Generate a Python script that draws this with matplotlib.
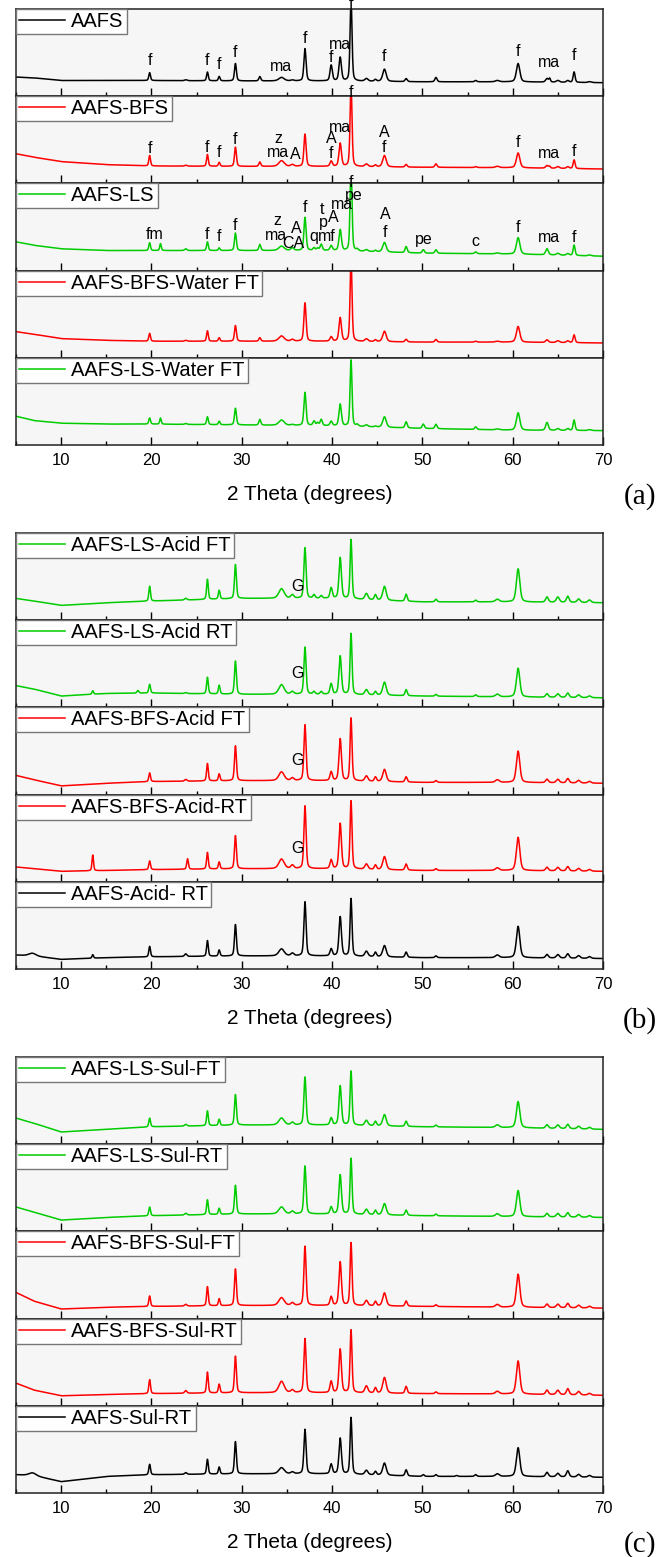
import numpy as np
import matplotlib
matplotlib.use("Agg")
import matplotlib.pyplot as plt
from matplotlib.ticker import MultipleLocator

plt.rcParams["font.family"] = ["Liberation Sans", "DejaVu Sans"]

W, H = 672, 1557

# common baseline anchor positions (2 theta, degrees)
base_x = [5, 7, 10, 15, 20, 30, 40, 50, 60, 70]

# peak widths (FWHM, degrees); anything not listed uses 0.28
peak_width = {6.8: 0.9, 13.5: 0.2, 18.5: 0.25, 19.8: 0.22, 21.0: 0.2, 23.8: 0.3,
              24.0: 0.22, 26.2: 0.22, 27.5: 0.22, 29.3: 0.25, 32.0: 0.25,
              34.4: 0.7, 35.6: 0.4, 37.0: 0.28, 39.9: 0.3, 40.9: 0.32,
              42.1: 0.25, 43.8: 0.4, 45.8: 0.45, 58.3: 0.5, 60.6: 0.45,
              63.8: 0.35, 64.1: 0.2, 65.0: 0.4, 66.1: 0.35, 66.8: 0.25,
              67.3: 0.4, 68.5: 0.4}

# ---------- (a) ----------
aafs_base = [0.22, 0.21, 0.18, 0.18, 0.18, 0.175, 0.175, 0.165, 0.165, 0.155]
aafs_peaks = {19.8: 0.09, 23.8: 0.01, 26.2: 0.10, 27.5: 0.05, 29.3: 0.20, 32.0: 0.05,
              34.4: 0.04, 35.6: 0.01, 37.0: 0.37, 39.9: 0.18, 40.9: 0.27, 42.1: 0.95,
              43.8: 0.03, 44.8: 0.02, 45.8: 0.14, 48.2: 0.035, 51.5: 0.05, 55.9: 0.015,
              58.3: 0.015, 60.6: 0.21, 63.8: 0.04, 64.1: 0.04, 65.0: 0.02, 66.1: 0.02,
              66.8: 0.12, 68.5: 0.01}

aafs_bfs_base = [0.34, 0.30, 0.25, 0.215, 0.20, 0.195, 0.195, 0.185, 0.18, 0.165]
aafs_bfs_peaks = {19.8: 0.12, 23.8: 0.01, 26.2: 0.135, 27.5: 0.045, 29.3: 0.22, 32.0: 0.05,
                  34.4: 0.065, 35.6: 0.02, 37.0: 0.37, 39.9: 0.06, 40.9: 0.265, 42.1: 0.95,
                  43.8: 0.03, 44.8: 0.02, 45.8: 0.13, 48.2: 0.03, 51.5: 0.04, 55.9: 0.01,
                  58.3: 0.015, 60.6: 0.17, 63.8: 0.03, 64.1: 0.02, 65.0: 0.02, 66.1: 0.02,
                  66.8: 0.10}

aafs_ls_base = [0.33, 0.29, 0.25, 0.23, 0.23, 0.23, 0.23, 0.20, 0.19, 0.165]
aafs_ls_peaks = {19.8: 0.09, 21.0: 0.08, 23.8: 0.02, 26.2: 0.10, 27.5: 0.03, 29.3: 0.20,
                 32.0: 0.07, 34.4: 0.05, 35.6: 0.03, 37.0: 0.38, 38.0: 0.03, 38.4: 0.025,
                 38.8: 0.07, 39.9: 0.055, 40.9: 0.24, 42.1: 1.0, 42.8: 0.02, 43.8: 0.02,
                 44.8: 0.015, 45.8: 0.11, 48.2: 0.07, 50.1: 0.04, 51.5: 0.04, 55.9: 0.02,
                 58.3: 0.01, 60.6: 0.19, 63.8: 0.07, 65.0: 0.02, 66.1: 0.02, 66.8: 0.12,
                 68.5: 0.01}

bfs_water_ft_base = [0.30, 0.27, 0.22, 0.20, 0.19, 0.19, 0.19, 0.18, 0.18, 0.17]
bfs_water_ft_peaks = {19.8: 0.09, 23.8: 0.01, 26.2: 0.12, 27.5: 0.04, 29.3: 0.18, 32.0: 0.04,
                      34.4: 0.06, 35.6: 0.02, 37.0: 0.44, 39.9: 0.05, 40.9: 0.27, 42.1: 0.95,
                      43.8: 0.03, 44.8: 0.02, 45.8: 0.12, 48.2: 0.03, 51.5: 0.03, 55.9: 0.01,
                      58.3: 0.01, 60.6: 0.18, 63.8: 0.03, 65.0: 0.02, 66.1: 0.02, 66.8: 0.09}

ls_water_ft_base = [0.33, 0.28, 0.25, 0.24, 0.24, 0.23, 0.22, 0.19, 0.17, 0.165]
ls_water_ft_peaks = {19.8: 0.07, 21.0: 0.07, 23.8: 0.01, 26.2: 0.09, 27.5: 0.04, 29.3: 0.19,
                     32.0: 0.065, 34.4: 0.06, 35.6: 0.01, 37.0: 0.38, 38.0: 0.05, 38.4: 0.03,
                     38.8: 0.07, 39.9: 0.05, 40.9: 0.25, 42.1: 0.76, 42.8: 0.02, 43.8: 0.02,
                     44.8: 0.01, 45.8: 0.12, 48.2: 0.07, 50.1: 0.05, 51.5: 0.05, 55.9: 0.03,
                     58.3: 0.01, 60.6: 0.20, 63.8: 0.09, 65.0: 0.02, 66.1: 0.02, 66.8: 0.12,
                     68.5: 0.01}

# ---------- (b) ----------
ls_acid_ft_base = [0.25, 0.22, 0.17, 0.20, 0.22, 0.25, 0.25, 0.21, 0.21, 0.20]
ls_acid_ft_peaks = {19.8: 0.17, 23.8: 0.02, 26.2: 0.23, 27.5: 0.10, 29.3: 0.39, 34.4: 0.11,
                    35.6: 0.04, 37.0: 0.58, 38.0: 0.04, 38.8: 0.03, 39.9: 0.12, 40.9: 0.47,
                    42.1: 0.68, 43.8: 0.07, 44.8: 0.06, 45.8: 0.16, 48.2: 0.08, 51.5: 0.03,
                    55.9: 0.02, 58.3: 0.03, 60.6: 0.38, 63.8: 0.06, 65.0: 0.06, 66.1: 0.07,
                    67.3: 0.04, 68.5: 0.03}

ls_acid_rt_base = [0.25, 0.21, 0.13, 0.16, 0.165, 0.15, 0.15, 0.13, 0.12, 0.11]
ls_acid_rt_peaks = {13.5: 0.04, 18.5: 0.03, 19.8: 0.10, 23.8: 0.01, 26.2: 0.19, 27.5: 0.10,
                    29.3: 0.38, 34.4: 0.11, 35.6: 0.03, 37.0: 0.54, 38.0: 0.03, 38.8: 0.03,
                    39.9: 0.12, 40.9: 0.44, 42.1: 0.70, 43.8: 0.06, 44.8: 0.04, 45.8: 0.15,
                    48.2: 0.07, 51.5: 0.02, 55.9: 0.02, 58.3: 0.03, 60.6: 0.33, 63.8: 0.04,
                    65.0: 0.04, 66.1: 0.05, 67.3: 0.03, 68.5: 0.02}

bfs_acid_ft_base = [0.22, 0.17, 0.10, 0.13, 0.15, 0.16, 0.16, 0.14, 0.14, 0.13]
bfs_acid_ft_peaks = {19.8: 0.10, 23.8: 0.02, 26.2: 0.20, 27.5: 0.08, 29.3: 0.40, 34.4: 0.10,
                     35.6: 0.03, 37.0: 0.64, 39.9: 0.10, 40.9: 0.48, 42.1: 0.72, 43.8: 0.06,
                     44.8: 0.05, 45.8: 0.14, 48.2: 0.06, 51.5: 0.02, 58.3: 0.03, 60.6: 0.36,
                     63.8: 0.04, 65.0: 0.04, 66.1: 0.05, 67.3: 0.03, 68.5: 0.02}

bfs_acid_rt_base = [0.17, 0.15, 0.12, 0.13, 0.14, 0.15, 0.15, 0.13, 0.13, 0.12]
bfs_acid_rt_peaks = {13.5: 0.18, 19.8: 0.10, 24.0: 0.12, 26.2: 0.19, 27.5: 0.08, 29.3: 0.38,
                     34.4: 0.11, 35.6: 0.04, 37.0: 0.72, 39.9: 0.10, 40.9: 0.52, 42.1: 0.78,
                     43.8: 0.06, 44.8: 0.05, 45.8: 0.15, 48.2: 0.07, 51.5: 0.02, 58.3: 0.03,
                     60.6: 0.38, 63.8: 0.04, 65.0: 0.04, 66.1: 0.05, 67.3: 0.03, 68.5: 0.02}

acid_rt_base = [0.16, 0.15, 0.11, 0.13, 0.14, 0.15, 0.15, 0.13, 0.13, 0.12]
acid_rt_peaks = {6.8: 0.03, 13.5: 0.04, 19.8: 0.12, 23.8: 0.03, 26.2: 0.18, 27.5: 0.07,
                 29.3: 0.36, 34.4: 0.08, 35.6: 0.03, 37.0: 0.62, 39.9: 0.08, 40.9: 0.45,
                 42.1: 0.66, 43.8: 0.06, 44.8: 0.05, 45.8: 0.13, 48.2: 0.06, 51.5: 0.02,
                 58.3: 0.03, 60.6: 0.36, 63.8: 0.04, 65.0: 0.04, 66.1: 0.05, 67.3: 0.03,
                 68.5: 0.02}

# ---------- (c) ----------
ls_sul_ft_base = [0.30, 0.24, 0.14, 0.17, 0.20, 0.22, 0.22, 0.20, 0.19, 0.17]
ls_sul_ft_peaks = {19.8: 0.10, 23.8: 0.02, 26.2: 0.17, 27.5: 0.07, 29.3: 0.35, 34.4: 0.08,
                   35.6: 0.03, 37.0: 0.55, 39.9: 0.08, 40.9: 0.45, 42.1: 0.62, 43.8: 0.06,
                   44.8: 0.05, 45.8: 0.13, 48.2: 0.06, 51.5: 0.02, 58.3: 0.03, 60.6: 0.30,
                   63.8: 0.04, 65.0: 0.04, 66.1: 0.05, 67.3: 0.03, 68.5: 0.02}

ls_sul_rt_base = [0.28, 0.22, 0.13, 0.16, 0.18, 0.20, 0.20, 0.18, 0.17, 0.16]
ls_sul_rt_peaks = {19.8: 0.10, 23.8: 0.02, 26.2: 0.17, 27.5: 0.07, 29.3: 0.33, 34.4: 0.08,
                   35.6: 0.03, 37.0: 0.55, 39.9: 0.08, 40.9: 0.45, 42.1: 0.64, 43.8: 0.06,
                   44.8: 0.05, 45.8: 0.13, 48.2: 0.06, 51.5: 0.02, 58.3: 0.03, 60.6: 0.30,
                   63.8: 0.04, 65.0: 0.04, 66.1: 0.05, 67.3: 0.03, 68.5: 0.02}

bfs_sul_ft_base = [0.30, 0.20, 0.11, 0.13, 0.14, 0.15, 0.15, 0.14, 0.13, 0.12]
bfs_sul_ft_peaks = {19.8: 0.12, 23.8: 0.02, 26.2: 0.22, 27.5: 0.08, 29.3: 0.42, 34.4: 0.09,
                    35.6: 0.03, 37.0: 0.68, 39.9: 0.10, 40.9: 0.50, 42.1: 0.72, 43.8: 0.06,
                    44.8: 0.05, 45.8: 0.15, 48.2: 0.06, 51.5: 0.02, 58.3: 0.03, 60.6: 0.38,
                    63.8: 0.04, 65.0: 0.04, 66.1: 0.05, 67.3: 0.03, 68.5: 0.02}

bfs_sul_rt_base = [0.26, 0.18, 0.115, 0.13, 0.14, 0.15, 0.15, 0.14, 0.135, 0.12]
bfs_sul_rt_peaks = {19.8: 0.16, 23.8: 0.03, 26.2: 0.24, 27.5: 0.10, 29.3: 0.42, 34.4: 0.13,
                    35.6: 0.03, 37.0: 0.62, 39.9: 0.13, 40.9: 0.50, 42.1: 0.72, 43.8: 0.08,
                    44.8: 0.06, 45.8: 0.18, 48.2: 0.08, 51.5: 0.02, 58.3: 0.03, 60.6: 0.38,
                    63.8: 0.05, 65.0: 0.05, 66.1: 0.07, 67.3: 0.04, 68.5: 0.02}

sul_rt_base = [0.21, 0.20, 0.13, 0.19, 0.21, 0.22, 0.22, 0.19, 0.19, 0.18]
sul_rt_peaks = {6.8: 0.03, 19.8: 0.12, 23.8: 0.02, 26.2: 0.17, 27.5: 0.08, 29.3: 0.37,
                34.4: 0.07, 35.6: 0.02, 37.0: 0.51, 39.9: 0.11, 40.9: 0.41, 42.1: 0.65,
                43.8: 0.05, 44.8: 0.04, 45.8: 0.14, 48.2: 0.07, 50.1: 0.02, 51.5: 0.02,
                53.8: 0.01, 55.9: 0.02, 58.3: 0.03, 60.6: 0.33, 63.8: 0.05, 65.0: 0.04,
                66.1: 0.07, 67.3: 0.03, 68.5: 0.02}

# phase labels (2theta, height in subplot, text)
aafs_marks = [(19.8, 0.32, "f"), (26.2, 0.32, "f"), (27.5, 0.28, "f"), (29.3, 0.41, "f"),
              (34.3, 0.25, "ma"), (37.0, 0.58, "f"), (39.9, 0.36, "f"), (40.9, 0.51, "ma"),
              (42.1, 0.96, "f"), (45.8, 0.37, "f"), (60.6, 0.43, "f"), (64.0, 0.30, "ma"),
              (66.8, 0.38, "f")]
aafs_bfs_marks = [(19.8, 0.31, "f"), (26.2, 0.33, "f"), (27.5, 0.27, "f"), (29.3, 0.415, "f"),
                  (34.0, 0.43, "z"), (34.0, 0.27, "ma"), (35.9, 0.24, "A"), (39.9, 0.43, "A"),
                  (39.9, 0.26, "f"), (40.9, 0.55, "ma"), (42.1, 0.96, "f"), (45.8, 0.50, "A"),
                  (45.8, 0.32, "f"), (60.6, 0.38, "f"), (64.0, 0.26, "ma"), (66.8, 0.28, "f")]
aafs_ls_marks = [(20.4, 0.33, "fm"), (26.2, 0.33, "f"), (27.5, 0.30, "f"), (29.3, 0.43, "f"),
                 (33.9, 0.49, "z"), (33.8, 0.32, "ma"), (36.0, 0.40, "A"), (35.7, 0.23, "CA"),
                 (37.0, 0.64, "f"), (38.0, 0.30, "q"), (39.4, 0.30, "mf"), (39.0, 0.46, "p"),
                 (38.9, 0.62, "t"), (40.1, 0.52, "A"), (41.1, 0.67, "ma"), (42.4, 0.78, "pe"),
                 (42.1, 0.93, "f"), (45.9, 0.56, "A"), (45.9, 0.35, "f"), (50.2, 0.27, "pe"),
                 (55.9, 0.25, "c"), (60.6, 0.41, "f"), (64.0, 0.29, "ma"), (66.8, 0.29, "f")]
acid_marks = [(36.2, 0.30, "G")]

green = "#00cc00"
panel_a = [("AAFS", "black", aafs_base, aafs_peaks, aafs_marks),
           ("AAFS-BFS", "red", aafs_bfs_base, aafs_bfs_peaks, aafs_bfs_marks),
           ("AAFS-LS", green, aafs_ls_base, aafs_ls_peaks, aafs_ls_marks),
           ("AAFS-BFS-Water FT", "red", bfs_water_ft_base, bfs_water_ft_peaks, []),
           ("AAFS-LS-Water FT", green, ls_water_ft_base, ls_water_ft_peaks, [])]
panel_b = [("AAFS-LS-Acid FT", green, ls_acid_ft_base, ls_acid_ft_peaks, acid_marks),
           ("AAFS-LS-Acid RT", green, ls_acid_rt_base, ls_acid_rt_peaks, acid_marks),
           ("AAFS-BFS-Acid FT", "red", bfs_acid_ft_base, bfs_acid_ft_peaks, acid_marks),
           ("AAFS-BFS-Acid-RT", "red", bfs_acid_rt_base, bfs_acid_rt_peaks, acid_marks),
           ("AAFS-Acid- RT", "black", acid_rt_base, acid_rt_peaks, [])]
panel_c = [("AAFS-LS-Sul-FT", green, ls_sul_ft_base, ls_sul_ft_peaks, []),
           ("AAFS-LS-Sul-RT", green, ls_sul_rt_base, ls_sul_rt_peaks, []),
           ("AAFS-BFS-Sul-FT", "red", bfs_sul_ft_base, bfs_sul_ft_peaks, []),
           ("AAFS-BFS-Sul-RT", "red", bfs_sul_rt_base, bfs_sul_rt_peaks, []),
           ("AAFS-Sul-RT", "black", sul_rt_base, sul_rt_peaks, [])]


def pattern(x, base, peaks):
    y = np.interp(x, base_x, base)
    for pos, amp in peaks.items():
        w = peak_width.get(pos, 0.28)
        d = (x - pos) / (w / 2)
        y = y + amp * (0.6 * np.exp(-np.log(2) * d ** 2) + 0.4 / (1 + d ** 2))
    return y


two_theta = np.arange(5, 70.001, 0.02)

fig = plt.figure(figsize=(W / 100, H / 100), dpi=100)

left, right = 16, 603
sub_h = 87.2
panels = [(panel_a, 9, "(a)"), (panel_b, 533, "(b)"), (panel_c, 1057, "(c)")]

for series, top, tag in panels:
    for i, (name, color, base, peaks, marks) in enumerate(series):
        y0 = top + sub_h * (i + 1)
        ax = fig.add_axes([left / W, 1 - y0 / H, (right - left) / W, sub_h / H])
        ax.set_facecolor("#f6f6f6")
        ax.plot(two_theta, pattern(two_theta, base, peaks), color=color, lw=1.1, label=name)
        ax.set_xlim(5, 70)
        ax.set_ylim(0, 1)
        ax.set_yticks([])
        ax.xaxis.set_major_locator(MultipleLocator(10))
        ax.xaxis.set_minor_locator(MultipleLocator(5))
        ax.tick_params(axis="x", which="major", direction="in", length=6, width=1)
        ax.tick_params(axis="x", which="minor", direction="in", length=3, width=1)
        for sp in ax.spines.values():
            sp.set_linewidth(1.1)
            sp.set_color("#222222")
        for mx, my, txt in marks:
            ax.text(mx, my, txt, ha="center", va="bottom", fontsize=11.5, clip_on=False)
        leg = ax.legend(loc="upper left", fontsize=14.5, frameon=True, fancybox=False,
                        borderaxespad=0, handlelength=2.3, handletextpad=0.3,
                        borderpad=0.15, framealpha=1)
        leg.get_frame().set_edgecolor("#777777")
        leg.get_frame().set_linewidth(1.0)
        if i < len(series) - 1:
            ax.tick_params(axis="x", labelbottom=False)
        else:
            ax.tick_params(axis="x", labelsize=12, pad=6)
    fig.text((left + right) / 2 / W, 1 - (y0 + 50) / H, "2 Theta (degrees)",
             ha="center", va="center", fontsize=15)
    fig.text(640 / W, 1 - (y0 + 52) / H, tag, ha="center", va="center",
             fontsize=21, family=["Liberation Serif", "DejaVu Serif"])

fig.savefig("out.png", dpi=100)
